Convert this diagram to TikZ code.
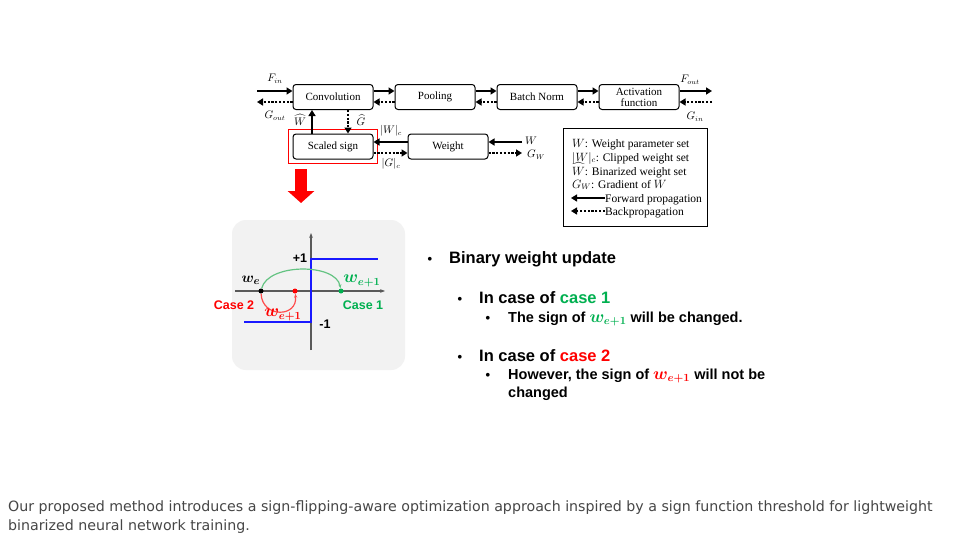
\documentclass[tikz,border=0pt]{standalone}
\usepackage{amsmath}
\usepackage{fontspec}
\setmainfont{Liberation Serif}
\setsansfont{Liberation Sans}
\newfontfamily\capfont{DejaVu Sans}
\usetikzlibrary{arrows.meta, positioning, calc, fit}

\definecolor{casegreen}{RGB}{0,176,80}
\definecolor{arcgreen}{RGB}{100,195,130}
\definecolor{panelgray}{RGB}{242,242,242}
\definecolor{stepblue}{RGB}{25,25,255}
\definecolor{axisgray}{RGB}{90,90,90}
\definecolor{captiongray}{RGB}{70,70,70}

\newcommand{\wnext}[1]{{\fontsize{16}{16}\selectfont\textcolor{#1}{$\boldsymbol{w_{e+1}}$}}}

\begin{document}
\begin{tikzpicture}[x=1pt, y=-1pt,
    node distance=21pt,
    block/.style={rectangle, draw, rounded corners=3pt, line width=1pt, minimum width=80pt, minimum height=25pt, align=center, inner sep=1pt, font=\rmfamily\fontsize{11}{11}\selectfont},
    fwd/.style={-{Triangle[length=6pt, width=7pt]}, line width=1.7pt},
    bwd/.style={fwd, dash pattern=on 2.2pt off 1.6pt},
    sym/.style={inner sep=0pt, font=\fontsize{10.5}{10.5}\selectfont},
    legtext/.style={anchor=base west, inner sep=0pt, font=\rmfamily\fontsize{11.5}{11.5}\selectfont},
    dot/.style={circle, inner sep=0pt, minimum size=5pt},
    plotlbl/.style={inner sep=0pt, font=\sffamily\bfseries\fontsize{12.5}{12.5}\selectfont},
    bul/.style={anchor=base, inner sep=0pt, font=\sffamily\bfseries\fontsize{13}{13}\selectfont},
    item/.style={anchor=base west, inner sep=0pt, font=\sffamily\bfseries\fontsize{16.5}{16.5}\selectfont},
    subitem/.style={anchor=base west, inner sep=0pt, font=\sffamily\bfseries\fontsize{14.5}{14.5}\selectfont},
    captext/.style={anchor=base west, inner sep=0pt, text=captiongray, font=\capfont\fontsize{14.2}{19}\selectfont}
]
    \path[fill=white] (0,0) rectangle (963,543);

    % block diagram
    \node[block] (conv) at (333,97) {Convolution};
    \node[block, right=of conv] (pool) {Pooling};
    \node[block, right=of pool] (bn) {Batch Norm};
    \node[block, right=of bn] (act) {Activation\\function};
    \node[block] (sign) at (333,146.5) {Scaled sign};
    \node[block, right=34pt of sign] (weight) {Weight};
    \node[draw=red, line width=1.5pt, fit=(sign), inner sep=4pt] (signframe) {};

    \foreach \a/\b in {conv/pool, pool/bn, bn/act} {
        \draw[fwd] ([yshift=6pt]\a.east) -- ([yshift=6pt]\b.west);
        \draw[bwd] ([yshift=-5pt]\b.west) -- ([yshift=-5pt]\a.east);
    }

    \coordinate (fin) at (257,91);
    \coordinate (gout) at (257,102);
    \coordinate (fout) at (712,91);
    \coordinate (gin) at (712,102);
    \coordinate (win) at (522,142);
    \coordinate (gwout) at (522,153);

    \draw[fwd] (fin) -- (fin -| conv.west);
    \draw[bwd] (gout -| conv.west) -- (gout);
    \draw[fwd] (fout -| act.east) -- (fout);
    \draw[bwd] (gin) -- (gin -| act.east);
    \draw[fwd] (win) -- (win -| weight.east);
    \draw[bwd] (gwout -| weight.east) -- (gwout);
    \draw[fwd] ([xshift=-21pt]sign.north) -- ([xshift=-21pt]conv.south);
    \draw[bwd] ([xshift=15pt]conv.south) -- ([xshift=15pt]sign.north);
    \draw[fwd] ([yshift=4.5pt]weight.west) -- ([yshift=4.5pt]sign.east);
    \draw[bwd] ([yshift=-6.5pt]sign.east) -- ([yshift=-6.5pt]weight.west);

    \node[sym] (finlbl) at (275,79) {$F_{in}$};
    \node[sym] (goutlbl) at (275,116) {$G_{out}$};
    \node[sym] (whatlbl) at (300,120) {$\widehat{W}$};
    \node[sym] (ghatlbl) at (361,120) {$\widehat{G}$};
    \node[sym] (wclbl) at (391,131) {$|W|_c$};
    \node[sym] (gclbl) at (391,164) {$|G|_c$};
    \node[sym] (wlbl) at (531,141) {$W$};
    \node[sym] (gwlbl) at (536,155) {$G_W$};
    \node[sym] (foutlbl) at (690,80) {$F_{out}$};
    \node[sym] (ginlbl) at (695,117) {$G_{in}$};

    % legend
    \node[draw, line width=1pt, minimum width=144pt, minimum height=98pt, inner sep=0pt] (legend) at (635,177) {};
    \node[legtext] (leg1) at (572,147) {$W$: Weight parameter set};
    \node[legtext] (leg2) at (572,161) {$|W|_c$: Clipped weight set};
    \node[legtext] (leg3) at (572,175) {$\widehat{W}$: Binarized weight set};
    \node[legtext] (leg4) at (572,188) {$G_W$: Gradient of $W$};
    \node[legtext] (leg5) at (605,202) {Forward propagation};
    \node[legtext] (leg6) at (605,215) {Backpropagation};
    \coordinate (legf) at (571,198);
    \coordinate (legb) at (571,211);
    \draw[fwd, line width=1.3pt] (legf -| leg5.west) -- (legf);
    \draw[bwd, line width=1.3pt] (legb -| leg6.west) -- (legb);

    % red arrow to the plot
    \coordinate (redtip) at (301,203);
    \draw[red, line width=12pt, -{Triangle[length=12pt, width=26pt]}] ($(signframe.south -| redtip)+(0,5)$) -- (redtip);

    % sign function plot
    \node[fill=panelgray, rounded corners=14pt, minimum width=173pt, minimum height=150pt] (panel) at (318.5,295) {};
    \draw[axisgray, line width=1.2pt, -{Stealth[length=5pt]}] (311,350) -- (311,233);
    \draw[axisgray, line width=1.2pt, -{Stealth[length=5pt]}] (235,291) -- (385,291);
    \draw[stepblue, line width=2pt] (244,322) -- (311,322) -- (311,259) -- (378,259);

    \node[dot, fill=black] (we) at (261,291) {};
    \node[dot, fill=red] (wred) at (295,291) {};
    \node[dot, fill=casegreen] (wgreen) at (341,291) {};
    \draw[arcgreen, line width=1.2pt, -{Stealth[length=4pt]}] (we) .. controls (268,263) and (336,263) .. (wgreen);
    \draw[red!70, line width=1.2pt, -{Stealth[length=4pt]}] (we) .. controls (262,318) and (298,318) .. (wred);

    \node[inner sep=0pt, font=\fontsize{15.5}{15}\selectfont] (welbl) at (251,280) {$\boldsymbol{w_e}$};
    \node[inner sep=0pt] (wglbl) at (362,281) {\wnext{casegreen}};
    \node[inner sep=0pt] (wrlbl) at (283,315) {\wnext{red}};
    \node[plotlbl] (plus) at (300,258) {+1};
    \node[plotlbl] (minus) at (325,324) {-1};
    \node[plotlbl, text=casegreen] (case1) at (363,305) {Case 1};
    \node[plotlbl, text=red] (case2) at (234,305) {Case 2};

    % bullet text
    \node[bul] (bul1) at (430,263) {•};
    \node[item] (txt1) at (449,263) {Binary weight update};
    \node[bul] (bul2) at (460,303) {•};
    \node[item] (txt2) at (479,303) {In case of \textcolor{casegreen}{case 1}};
    \node[bul] (bul3) at (488,322) {•};
    \node[subitem] (txt3) at (508,322) {The sign of \wnext{casegreen} will be changed.};
    \node[bul] (bul4) at (460,361) {•};
    \node[item] (txt4) at (479,361) {In case of \textcolor{red}{case 2}};
    \node[bul] (bul5) at (488,379) {•};
    \node[subitem] (txt5) at (508,379) {However, the sign of \wnext{red} will not be};
    \node[subitem] (txt6) at (508,397) {changed};

    % caption
    \node[captext] (cap1) at (8,511) {Our proposed method introduces a sign-flipping-aware optimization approach inspired by a sign function threshold for lightweight};
    \node[captext] (cap2) at (8,530) {binarized neural network training.};
\end{tikzpicture}
\end{document}
